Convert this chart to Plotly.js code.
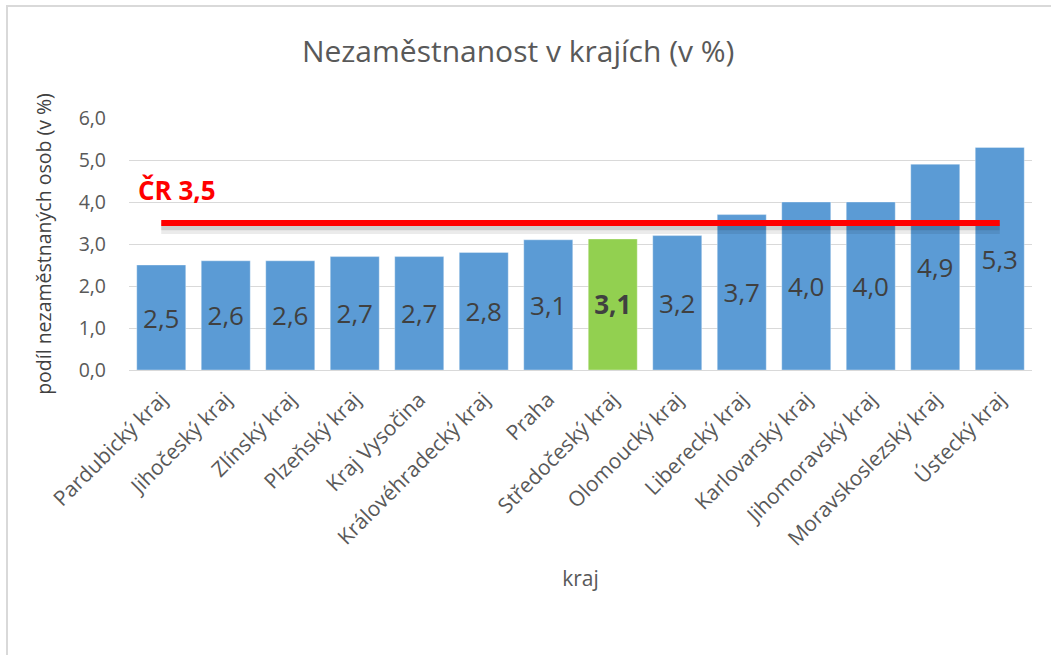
<!DOCTYPE html>
<html>
<head>
<meta charset="utf-8">
<script src="https://cdn.plot.ly/plotly-3.0.1.min.js"></script>
<style>
  html, body { margin: 0; padding: 0; background: #fff; }
  #wrap { position: relative; width: 1051px; height: 655px; overflow: hidden; }
  #chart { position: absolute; left: 0; top: 0; width: 1051px; height: 655px; }
  #frame { position: absolute; left: 6px; top: 5px; width: 1060px; height: 700px;
           border-top: 2px solid #d9d9d9; border-left: 2px solid #d9d9d9; pointer-events: none; }
</style>
</head>
<body>
<div id="wrap">
  <div id="chart"></div>
  <div id="frame"></div>
</div>
<script>
const categories = [
  'Pardubický kraj', 'Jihočeský kraj', 'Zlínský kraj', 'Plzeňský kraj',
  'Kraj Vysočina', 'Královéhradecký kraj', 'Praha', 'Středočeský kraj',
  'Olomoucký kraj', 'Liberecký kraj', 'Karlovarský kraj', 'Jihomoravský kraj',
  'Moravskoslezský kraj', 'Ústecký kraj'
];
const values = [2.5, 2.6, 2.6, 2.7, 2.7, 2.8, 3.1, 3.12, 3.2, 3.7, 4.0, 4.0, 4.9, 5.3];
const highlight = 'Středočeský kraj';
const crValue = 3.5;
const crLabel = 'ČR 3,5';
const yTicks = [0, 1, 2, 3, 4, 5, 6];

const blue = '#5b9bd5', green = '#92d050';
const colors = categories.map(c => c === highlight ? green : blue);
const templates = categories.map(c => c === highlight ? '<b>%{y:.1f}</b>' : '%{y:.1f}');

const bars = {
  type: 'bar',
  x: categories,
  y: values,
  marker: { color: colors, line: { color: 'rgba(255,255,255,0.35)', width: 1 } },
  texttemplate: templates,
  textposition: 'inside',
  insidetextanchor: 'middle',
  textangle: 0,
  textfont: { family: 'Open Sans', size: 26, color: '#404040' },
  hoverinfo: 'x+y',
  showlegend: false
};

const lineX = [categories[0], categories[categories.length - 1]];
const shadow1 = {
  type: 'scatter', mode: 'lines',
  x: lineX, y: [crValue - 0.11, crValue - 0.11],
  line: { color: 'rgba(0,0,0,0.08)', width: 13 },
  hoverinfo: 'skip', showlegend: false
};
const shadow2 = {
  type: 'scatter', mode: 'lines',
  x: lineX, y: [crValue - 0.09, crValue - 0.09],
  line: { color: 'rgba(0,0,0,0.12)', width: 7 },
  hoverinfo: 'skip', showlegend: false
};
const crLine = {
  type: 'scatter', mode: 'lines',
  x: lineX, y: [crValue, crValue],
  line: { color: '#ff0000', width: 6 },
  hoverinfo: 'skip', showlegend: false
};

const layout = {
  width: 1051, height: 655,
  margin: { l: 129, r: 19, t: 118, b: 285 },
  paper_bgcolor: 'rgba(0,0,0,0)',
  plot_bgcolor: '#ffffff',
  separators: ', ',
  font: { family: 'Open Sans', color: '#595959' },
  bargap: 0.24,
  title: {
    text: 'Nezaměstnanost v krajích (v %)',
    font: { family: 'Open Sans', size: 30, color: '#595959' },
    x: 0.493, xanchor: 'center', y: 0.921, yanchor: 'middle'
  },
  xaxis: {
    type: 'category',
    tickangle: -45,
    tickfont: { family: 'Open Sans', size: 21, color: '#595959' },
    ticklabelstandoff: 8,
    showgrid: false,
    showline: true, linecolor: '#d9d9d9', linewidth: 1,
    ticks: '',
    title: { text: 'kraj', font: { family: 'Open Sans', size: 21, color: '#595959' }, standoff: 20 }
  },
  yaxis: {
    range: [0, 6],
    tickvals: yTicks,
    tickformat: '.1f',
    tickfont: { family: 'Open Sans', size: 19.5, color: '#595959' },
    ticklabelstandoff: 22,
    showgrid: true, gridcolor: '#d9d9d9', gridwidth: 1,
    zeroline: false,
    title: { text: 'podíl nezaměstnaných osob (v %)', font: { family: 'Open Sans', size: 19.5, color: '#404040' }, standoff: 21 }
  },
  annotations: [{
    text: '<b>' + crLabel + '</b>',
    xref: 'paper', yref: 'y',
    x: 0.008, y: crValue + 0.78,
    xanchor: 'left', yanchor: 'middle',
    showarrow: false,
    font: { family: 'Open Sans', size: 26, color: '#ff0000' }
  }]
};

Plotly.newPlot('chart', [bars, shadow1, shadow2, crLine], layout, { displayModeBar: false, staticPlot: true });
</script>
</body>
</html>
